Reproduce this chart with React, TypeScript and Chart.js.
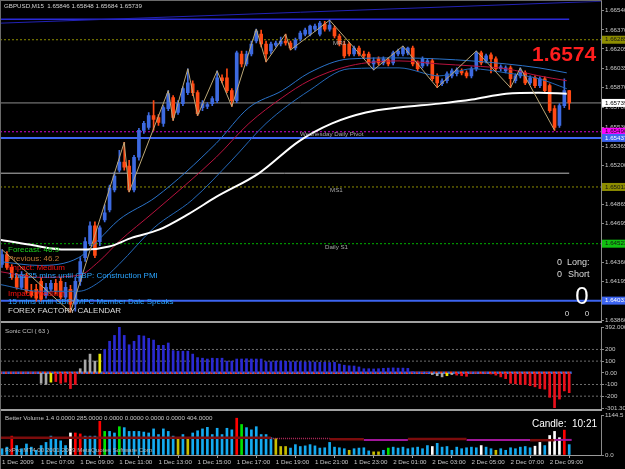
import React, { useEffect, useRef } from 'react';
import { Chart, registerables } from 'chart.js';

Chart.register(...registerables);

const FONT = "'Liberation Sans', Arial, Helvetica, sans-serif";

// ---------------- data ----------------
const symbol = 'GBPUSD,M15';
const timeLabels = ['1 Dec 2009', '1 Dec 07:00', '1 Dec 09:00', '1 Dec 11:00', '1 Dec 13:00', '1 Dec 15:00', '1 Dec 17:00', '1 Dec 19:00', '1 Dec 21:00', '1 Dec 23:00', '2 Dec 01:00', '2 Dec 03:00', '2 Dec 05:00', '2 Dec 07:00', '2 Dec 09:00'];
const timeLabelBars = [0, 8, 16, 24, 32, 40, 48, 56, 64, 72, 80, 88, 96, 104, 112];

const opens = [1.64343, 1.64429, 1.64318, 1.64232, 1.64146, 1.64249, 1.64112, 1.64129, 1.64197, 1.64077,
  1.64129, 1.64180, 1.64197, 1.64060, 1.64129, 1.64000, 1.64197, 1.64403, 1.64523, 1.64678,
  1.64541, 1.64729, 1.64815, 1.64987, 1.65158, 1.65227, 1.65193, 1.64987, 1.65270, 1.65502,
  1.65527, 1.65630, 1.65613, 1.65562, 1.65690, 1.65785, 1.65656, 1.65733, 1.65828, 1.65905,
  1.65828, 1.65699, 1.65708, 1.65733, 1.65759, 1.65956, 1.65956, 1.65845, 1.65759, 1.66162,
  1.66076, 1.66162, 1.66274, 1.66334, 1.66248, 1.66188, 1.66239, 1.66248, 1.66274, 1.66257,
  1.66214, 1.66291, 1.66334, 1.66334, 1.66377, 1.66334, 1.66420, 1.66377, 1.66385, 1.66317,
  1.66248, 1.66248, 1.66162, 1.66214, 1.66162, 1.66162, 1.66076, 1.66119, 1.66085, 1.66111,
  1.66085, 1.66162, 1.66162, 1.66171, 1.66214, 1.66085, 1.66059, 1.66076, 1.66102, 1.65973,
  1.65905, 1.65931, 1.65973, 1.65991, 1.66016, 1.65999, 1.65973, 1.66034, 1.66171, 1.66102,
  1.66154, 1.66119, 1.66034, 1.66016, 1.66042, 1.65931, 1.65973, 1.65999, 1.65913, 1.65956,
  1.65888, 1.65948, 1.65888, 1.65690, 1.65544, 1.65716, 1.65846];
const highs = [1.64472, 1.64455, 1.64343, 1.64266, 1.64283, 1.64266, 1.64172, 1.64172, 1.64232, 1.64180,
  1.64206, 1.64215, 1.64232, 1.64189, 1.64163, 1.64232, 1.64403, 1.64575, 1.64712, 1.64712,
  1.64678, 1.64858, 1.65030, 1.65141, 1.65330, 1.65399, 1.65244, 1.65287, 1.65519, 1.65579,
  1.65656, 1.65759, 1.65639, 1.65716, 1.65845, 1.65802, 1.65759, 1.65879, 1.66034, 1.65931,
  1.65845, 1.65759, 1.65742, 1.65793, 1.66016, 1.65982, 1.66034, 1.65862, 1.66188, 1.66188,
  1.66188, 1.66274, 1.66377, 1.66368, 1.66274, 1.66265, 1.66274, 1.66308, 1.66334, 1.66274,
  1.66300, 1.66360, 1.66385, 1.66411, 1.66420, 1.66445, 1.66445, 1.66454, 1.66402, 1.66334,
  1.66274, 1.66265, 1.66231, 1.66231, 1.66188, 1.66179, 1.66128, 1.66137, 1.66137, 1.66128,
  1.66188, 1.66205, 1.66231, 1.66222, 1.66231, 1.66102, 1.66137, 1.66119, 1.66119, 1.65991,
  1.65948, 1.66008, 1.66034, 1.66042, 1.66034, 1.66016, 1.66051, 1.66188, 1.66188, 1.66162,
  1.66171, 1.66137, 1.66068, 1.66059, 1.66059, 1.65991, 1.66042, 1.66016, 1.65973, 1.65973,
  1.65965, 1.65965, 1.65905, 1.65716, 1.65733, 1.65948, 1.65848];
const lows = [1.64318, 1.64300, 1.64215, 1.64129, 1.64129, 1.64094, 1.64060, 1.64026, 1.64026, 1.64052,
  1.64112, 1.64086, 1.64043, 1.64043, 1.63931, 1.63940, 1.64163, 1.64369, 1.64506, 1.64403,
  1.64506, 1.64712, 1.64798, 1.64970, 1.65141, 1.65158, 1.64970, 1.64970, 1.65244, 1.65476,
  1.65510, 1.65502, 1.65544, 1.65536, 1.65673, 1.65587, 1.65639, 1.65716, 1.65810, 1.65802,
  1.65630, 1.65673, 1.65690, 1.65716, 1.65742, 1.65913, 1.65828, 1.65708, 1.65742, 1.66051,
  1.66059, 1.66145, 1.66257, 1.66222, 1.66094, 1.66162, 1.66222, 1.66231, 1.66239, 1.66197,
  1.66197, 1.66274, 1.66317, 1.66317, 1.66360, 1.66317, 1.66360, 1.66360, 1.66300, 1.66231,
  1.66128, 1.66145, 1.66145, 1.66145, 1.66128, 1.66068, 1.66025, 1.66068, 1.66068, 1.66059,
  1.66068, 1.66145, 1.66145, 1.66154, 1.66059, 1.66016, 1.66042, 1.66059, 1.65931, 1.65871,
  1.65888, 1.65913, 1.65956, 1.65973, 1.65982, 1.65956, 1.65956, 1.66016, 1.66068, 1.66085,
  1.65999, 1.66016, 1.66016, 1.65999, 1.65871, 1.65913, 1.65956, 1.65896, 1.65896, 1.65871,
  1.65871, 1.65828, 1.65656, 1.65502, 1.65527, 1.65699, 1.65684];
const closes = [1.64429, 1.64318, 1.64232, 1.64146, 1.64249, 1.64112, 1.64077, 1.64052, 1.64043, 1.64146,
  1.64180, 1.64112, 1.64060, 1.64146, 1.64000, 1.64197, 1.64369, 1.64541, 1.64678, 1.64421,
  1.64661, 1.64789, 1.65004, 1.65107, 1.65227, 1.65184, 1.64987, 1.65270, 1.65502, 1.65562,
  1.65630, 1.65596, 1.65570, 1.65699, 1.65819, 1.65613, 1.65733, 1.65862, 1.65913, 1.65828,
  1.65647, 1.65733, 1.65725, 1.65776, 1.65956, 1.65931, 1.65845, 1.65759, 1.66171, 1.66076,
  1.66162, 1.66248, 1.66360, 1.66248, 1.66162, 1.66248, 1.66257, 1.66274, 1.66257, 1.66214,
  1.66282, 1.66342, 1.66368, 1.66402, 1.66402, 1.66428, 1.66377, 1.66411, 1.66317, 1.66248,
  1.66145, 1.66162, 1.66214, 1.66162, 1.66145, 1.66085, 1.66102, 1.66085, 1.66119, 1.66076,
  1.66171, 1.66188, 1.66214, 1.66214, 1.66076, 1.66034, 1.66119, 1.66102, 1.65948, 1.65913,
  1.65931, 1.65991, 1.66016, 1.66025, 1.65999, 1.65973, 1.66034, 1.66171, 1.66085, 1.66145,
  1.66119, 1.66034, 1.66051, 1.66042, 1.65948, 1.65973, 1.66016, 1.65913, 1.65956, 1.65888,
  1.65948, 1.65845, 1.65673, 1.65527, 1.65716, 1.65845, 1.65739];

const priceTicks = [1.6654, 1.6637, 1.66205, 1.66035, 1.6587, 1.657, 1.6553, 1.65365, 1.652, 1.6503, 1.64865, 1.64695, 1.6453, 1.6436, 1.64195, 1.6403, 1.6386];

// moving averages (bar index, price)
const maWhiteBars = [-0.6, 5.5, 13.1, 17.2, 21.9, 26.6, 32.1, 38.2, 43.8, 52.6, 60.7, 67.5, 74.4, 81.2, 89.4, 96.1, 103.1, 109.8, 115.5];
const maWhite = [1.64558, 1.64515, 1.64472, 1.64472, 1.64498, 1.64575, 1.64644, 1.64781, 1.64927, 1.65133, 1.65407, 1.65562, 1.65656, 1.65699, 1.65733, 1.65768, 1.65819, 1.65828, 1.65819];
const bandUpBars = [-0.6, 7.6, 15.7, 19.8, 23.9, 31.5, 43.8, 50.5, 57.3, 62.8, 71.0, 81.2, 89.4, 96.1, 103.1, 109.8, 115.5];
const bandUp = [1.64369, 1.64335, 1.64403, 1.64558, 1.64729, 1.64927, 1.65390, 1.65699, 1.65845, 1.65999, 1.66119, 1.66128, 1.66119, 1.66102, 1.66076, 1.66042, 1.65999];
const maRedBars = [-0.6, 7.6, 15.7, 19.8, 23.9, 31.1, 43.8, 50.5, 57.3, 62.8, 71.0, 81.2, 89.4, 96.1, 103.1, 109.8, 115.5];
const maRed = [1.64283, 1.64232, 1.64249, 1.64369, 1.64541, 1.64798, 1.65270, 1.65562, 1.65785, 1.65931, 1.66059, 1.66102, 1.66076, 1.66059, 1.66034, 1.65973, 1.65931];
const bandLowBars = [-0.6, 7.6, 15.7, 19.8, 23.9, 31.1, 38.9, 47.0, 54.0, 62.8, 71.0, 81.2, 89.4, 96.1, 103.1, 109.8, 115.5];
const bandLow = [1.64172, 1.64112, 1.64112, 1.64189, 1.64343, 1.64661, 1.64901, 1.65244, 1.65562, 1.65845, 1.66034, 1.66042, 1.65973, 1.66034, 1.65999, 1.65948, 1.65862];

const zigzagBars = [0, 14, 25, 26, 34, 35, 38, 40, 44, 47, 52, 54, 58, 59, 67, 76, 82, 89, 97, 104, 106, 113];
const zigzagPrices = [1.64472, 1.63931, 1.65399, 1.64970, 1.65845, 1.65587, 1.66034, 1.65630, 1.66016, 1.65708, 1.66377, 1.66094, 1.66334, 1.66197, 1.66454, 1.66025, 1.66231, 1.65871, 1.66188, 1.65871, 1.66042, 1.65502];

const channelBars = [-0.41, 122.5];
const channelPrices = [1.66428, 1.66617];
const resistancePrice = 1.66463;
const grayLevelPrice = 1.65132;

const levelPrices = [1.66285, 1.6549, 1.65437, 1.65013, 1.64523, 1.64031];
const levelNames = ['MR1', '', 'Wednesday Daily Pivot', 'MS1', 'Daily S1', ''];

const forecastLines = ['Forecast: 46.9', 'Previous: 46.2', 'Impact: Medium', '1 hrs 25 mins until GBP: Construction PMI', '', 'Impact: Medium', '15 mins until GBP: MPC Member Dale Speaks', 'FOREX FACTORY CALENDAR'];
const longCount = 0;
const shortCount = 0;
const netCount = 0;
const lotsLong = 0;
const lotsShort = 0;

// Sonic CCI (63)
const cciPeriod = 63;
const cciValues = [0, 0, 0, 0, 0, 0, 0, 0,
  -90, -100, -80, -75, -90, -80, -135, -100,
  35, 110, 160, 100, 160,
  200, 270, 320, 392, 320, 240, 270, 320, 315, 295,
  280, 235, 235, 255, 190, 185, 185, 185, 160, 130,
  125, 118, 125, 123, 125, 100, 100, 118,
  118, 120, 118, 118, 118,
  95, 95, 100, 100, 98, 95, 95, 95, 92, 95, 92, 90,
  90, 88, 90, 75,
  65, 60, 58, 50,
  35, 35, 33, 35,
  38, 40, 42, 40, 40, 38,
  10, 5, 3, 2,
  -15, -25, -35, -25, -15,
  -20, -25, -30,
  0, 0, -5, 0, -10,
  -20, -35, -50,
  -90, -95, -100,
  -100, -110, -120, -135, -140,
  -210, -301.303, -225, -155, -170];
const cciNeutral: Record<number, string> = { 8: 'g', 9: 'g', 10: 'y', 16: 'g', 17: 'g', 18: 'g', 19: 'g', 20: 'y', 88: 'g', 89: 'g', 90: 'g', 91: 'y', 92: 'g' };
const cciTicks = [392, 200, 100, 0, -100, -200, -301.303];
const cciTickLabels = ['392.0000', '200', '100', '0.00', '-100', '-200', '-301.3030'];
const cciLevels = [200, 100, -100, -200];

// Better Volume 1.4
const volValues = [180, 225, 540, 270, 180, 315, 225, 135, 270, 360,
  540, 495, 405, 270, 630, 630, 603, 540, 540,
  540, 964, 675, 675, 630, 810, 783, 675, 675, 675,
  657, 630, 747, 585, 747, 675, 540, 495, 585, 495,
  630, 693, 747, 792, 585, 765, 585, 765, 720, 1053,
  873, 783, 720, 810, 585, 585, 495, 468, 243, 243,
  198, 297, 243, 261, 297, 261, 198, 207, 360, 225,
  207, 180, 135, 180, 198, 207, 117, 90, 90, 135,
  198, 225, 198, 225, 180, 207, 225, 180, 270, 243,
  333, 225, 243, 135, 225, 180, 207, 225, 207, 270,
  225, 180, 135, 180, 135, 207, 180, 225, 243, 207,
  252, 360, 270, 558, 675, 495, 711, 297];
const volState = ['bbrbbbbbbb', 'bbbbwrrbb', 'brgbbgbbbb', 'bbbbbbbyby', 'bbbbbbbbbr', 'gbbbbbbyyy', 'bbbbbbbbbb', 'bbybbbbyyb', 'gbbbbbbbbw', 'bbbbbbbbbw', 'bbybbbbbbb', 'wwbwwwrb'].join('');
const volAvgFrom = [-0.41, 55, 67, 74, 83, 95, 108, 113];
const volAvgTo = [55, 67, 74, 83, 95, 108, 113, 116.5];
const volAvgValue = [495, 470, 450, 432, 459, 432, 423, 432];
const volAvgKind = 'dxdmdmdm';
const volTicks = [0, 1144.5];
const volTickLabels = ['0.0', '1144.5'];
const volumeTitle = 'Better Volume 1.4 0.0000 285.0000 0.0000 0.0000 0.0000 0.0000 404.0000';
const candleTimer = '10:21';
const copyright = 'FxPro MT4.00 2001-2009 MetaQuotes Software Corp.';

// ---------------- styling ----------------
const X_MIN = -0.41;
const X_MAX = 122.5;
const BULL = '#3d6ae0';
const BEAR = '#ff4a14';
const AXIS_TEXT = '#c8c8c8';
const SMALL = 6.2;

function yAxis(min: number, max: number, ticks: number[], fmt: (v: number) => string) {
  return {
    type: 'linear',
    position: 'right',
    min,
    max,
    afterFit: (s: any) => { s.width = 24; },
    afterBuildTicks: (s: any) => { s.ticks = ticks.map((v) => ({ value: v })); },
    ticks: { autoSkip: false, color: AXIS_TEXT, padding: 1, font: { size: SMALL, lineHeight: 0.1 }, callback: (v: any) => fmt(Number(v)) },
    grid: { drawOnChartArea: false, drawTicks: true, tickLength: 3, color: '#8a8a8a' },
    border: { display: true, color: '#8a8a8a', dash: [2, 1] },
  };
}

const hiddenX = { type: 'linear', min: X_MIN, max: X_MAX, offset: false, display: false };

function seg(x0: number, y0: number, x1: number, y1: number, color: string, width: number, dash: number[], order: number, dashOffset = 0) {
  return {
    type: 'line',
    data: [{ x: x0, y: y0 }, { x: x1, y: y1 }],
    borderColor: color,
    borderWidth: width,
    borderDash: dash,
    borderDashOffset: dashOffset,
    pointRadius: 0,
    order,
  };
}

function curve(bars: number[], vals: number[], color: string, width: number, order: number) {
  return {
    type: 'line',
    data: bars.map((b, i) => ({ x: b, y: vals[i] })),
    borderColor: color,
    borderWidth: width,
    pointRadius: 0,
    cubicInterpolationMode: 'monotone',
    order,
  };
}

const baseOptions = {
  animation: false,
  responsive: false,
  maintainAspectRatio: false,
  events: [],
  plugins: { legend: { display: false }, tooltip: { enabled: false } },
};

function makeMain(canvas: HTMLCanvasElement) {
  const n = closes.length - 1;
  const idx = closes.map((_, i) => i);
  const colors = closes.map((c, i) => (c >= opens[i] ? BULL : BEAR));
  const levelStyle = [
    { c: '#8c8c00', w: 1, d: [2, 2], bg: '#8c8c00', fg: '#141414' },
    { c: '#d400d4', w: 1, d: [2, 2], bg: '#ff00ff', fg: '#141414' },
    { c: '#3c64f0', w: 2, d: [], bg: '#3c64f0', fg: '#ffffff' },
    { c: '#8c8c00', w: 1, d: [2, 2], bg: '#8c8c00', fg: '#141414' },
    { c: '#00b000', w: 1, d: [2, 2], bg: '#10c010', fg: '#141414' },
    { c: '#3c64f0', w: 2, d: [], bg: '#3c64f0', fg: '#ffffff' },
  ];
  const labelPos = [
    { x: 333, dy: 4 }, { x: 0, dy: 0 }, { x: 300, dy: -4 }, { x: 330, dy: 3 }, { x: 325, dy: 4 }, { x: 0, dy: 0 },
  ];
  const forecastColors = ['#1ed21e', '#c07a34', '#ff1010', '#2aa4ff', '', '#ff1010', '#2aa4ff', '#dcdcdc'];

  const textPlugin = {
    id: 'mainText',
    afterDraw(chart: any) {
      const { ctx } = chart;
      const ys = chart.scales.y;
      ctx.save();
      ctx.textBaseline = 'middle';
      ctx.textAlign = 'left';
      ctx.font = `${SMALL}px ${FONT}`;
      ctx.fillStyle = '#d4d4d4';
      ctx.fillText(`${symbol}  ${opens[n].toFixed(5)} ${highs[n].toFixed(5)} ${lows[n].toFixed(5)} ${closes[n].toFixed(5)}`, 4, 6);
      ctx.fillStyle = '#a8a8a8';
      levelNames.forEach((name, k) => {
        if (!name) return;
        ctx.fillText(name, labelPos[k].x, ys.getPixelForValue(levelPrices[k]) + labelPos[k].dy);
      });
      // forecast calendar
      ctx.font = `8px ${FONT}`;
      forecastLines.forEach((t, k) => {
        if (!t) return;
        ctx.fillStyle = forecastColors[k];
        ctx.fillText(t, 8, 250 + k * 8.7);
      });
      // big price
      ctx.font = `bold 21px ${FONT}`;
      ctx.fillStyle = '#ff1e1e';
      ctx.textBaseline = 'alphabetic';
      ctx.fillText(closes[n].toFixed(4), 532, 61);
      // positions
      ctx.textBaseline = 'middle';
      ctx.font = `9px ${FONT}`;
      ctx.fillStyle = '#dcdcdc';
      ctx.textAlign = 'right';
      ctx.fillText(String(longCount), 562, 263);
      ctx.fillText(String(shortCount), 562, 275);
      ctx.textAlign = 'left';
      ctx.fillText('Long:', 567, 263);
      ctx.fillText('Short', 568, 275);
      ctx.textAlign = 'center';
      ctx.font = `24px ${FONT}`;
      ctx.fillStyle = '#ffffff';
      ctx.fillText(String(netCount), 582, 297);
      ctx.font = `8px ${FONT}`;
      ctx.fillStyle = '#dcdcdc';
      ctx.fillText(String(lotsLong), 567, 314);
      ctx.fillText(String(lotsShort), 587, 314);
      // axis tags
      ctx.textAlign = 'left';
      ctx.font = `${SMALL}px ${FONT}`;
      const tag = (p: number, bg: string, fg: string) => {
        const y = ys.getPixelForValue(p);
        ctx.fillStyle = bg;
        ctx.fillRect(602, y - 4, 23, 8);
        ctx.fillStyle = fg;
        ctx.fillText(p.toFixed(5), 605, y);
      };
      levelPrices.forEach((p, k) => tag(p, levelStyle[k].bg, levelStyle[k].fg));
      tag(closes[n], '#ffffff', '#000000');
      ctx.restore();
    },
  };

  const datasets: any[] = [
    { type: 'bar', data: idx.map((i) => ({ x: i, y: [opens[i], closes[i]] })), backgroundColor: colors, borderWidth: 0, barThickness: 3, grouped: false, minBarLength: 1, order: 10 },
    { type: 'bar', data: idx.map((i) => ({ x: i, y: [lows[i], highs[i]] })), backgroundColor: colors, borderWidth: 0, barThickness: 1, grouped: false, order: 11 },
    curve(bandUpBars, bandUp, '#2a72c8', 1, 5),
    curve(maRedBars, maRed, '#b8123e', 1, 5),
    curve(bandLowBars, bandLow, '#2468b8', 1, 5),
    curve(maWhiteBars, maWhite, '#ffffff', 2, 4),
    { type: 'line', data: zigzagBars.map((b, i) => ({ x: b, y: zigzagPrices[i] })), borderColor: '#bca878', borderWidth: 1, pointRadius: 0, order: 3 },
    seg(channelBars[0], channelPrices[0], channelBars[1], channelPrices[1], '#2222b4', 1, [], 29),
    seg(X_MIN, resistancePrice, n, resistancePrice, '#2a2ad8', 1.5, [], 29),
    seg(X_MIN, grayLevelPrice, n, grayLevelPrice, '#bdbdbd', 1, [], 29),
    seg(X_MIN, closes[n], X_MAX, closes[n], '#8c8c8c', 1, [], 30),
    ...levelPrices.map((p, k) => seg(X_MIN, p, X_MAX, p, levelStyle[k].c, levelStyle[k].w, levelStyle[k].d, 30)),
  ];

  return new Chart(canvas, {
    type: 'bar',
    data: { datasets },
    options: {
      ...baseOptions,
      layout: { padding: { top: 0, bottom: 5, left: 0, right: 0 } },
      scales: { x: hiddenX, y: yAxis(1.63855, 1.66617, priceTicks, (v) => v.toFixed(5)) },
    } as any,
    plugins: [textPlugin],
  } as any);
}

function makeCci(canvas: HTMLCanvasElement) {
  const idx = cciValues.map((_, i) => i);
  const colorMap: Record<string, string> = { b: '#2a2ad2', r: '#e8101c', g: '#a8a8a8', y: '#e6e600' };
  const colors = cciValues.map((v, i) => colorMap[cciNeutral[i] || (v >= 0 ? 'b' : 'r')]);
  const last = cciValues.length - 1 + 0.5;
  const textPlugin = {
    id: 'cciText',
    afterDraw(chart: any) {
      const { ctx } = chart;
      ctx.save();
      ctx.textBaseline = 'middle';
      ctx.font = `${SMALL}px ${FONT}`;
      ctx.fillStyle = '#c4c4c4';
      ctx.fillText(`Sonic CCI ( ${cciPeriod} )`, 5, 8);
      ctx.restore();
    },
  };
  const datasets: any[] = [
    ...cciLevels.map((v) => seg(X_MIN, v, X_MAX, v, '#6e6e6e', 1, [2, 2], 20)),
    seg(X_MIN, 0, last, 0, '#ff3c14', 2.5, [2.45, 2.44], 15),
    seg(X_MIN, 0, last, 0, '#3c6ce0', 2.5, [2.45, 2.44], 14, 2.45),
    { type: 'bar', data: idx.map((i) => ({ x: i, y: cciValues[i] })), backgroundColor: colors, borderWidth: 0, barThickness: 2, grouped: false, order: 5 },
  ];
  return new Chart(canvas, {
    type: 'bar',
    data: { datasets },
    options: {
      ...baseOptions,
      layout: { padding: { top: 4, bottom: 5, left: 0, right: 0 } },
      scales: { x: hiddenX, y: yAxis(-301.303, 392, cciTicks, (v) => cciTickLabels[cciTicks.indexOf(v)] ?? '') },
    } as any,
    plugins: [textPlugin],
  } as any);
}

function makeVolume(canvas: HTMLCanvasElement) {
  const idx = volValues.map((_, i) => i);
  const colorMap: Record<string, string> = { b: '#14aaf0', r: '#ff0000', g: '#00e400', y: '#c8be00', w: '#ffffff' };
  const colors = idx.map((i) => colorMap[volState[i] || 'b']);
  const avgStyle: Record<string, any> = { d: { c: '#7c0c0c', w: 2.5, dash: [] }, m: { c: '#a0169a', w: 2, dash: [] }, x: { c: '#b0285a', w: 1.5, dash: [1, 1] } };
  const textPlugin = {
    id: 'volText',
    afterDraw(chart: any) {
      const { ctx } = chart;
      ctx.save();
      ctx.textBaseline = 'middle';
      ctx.font = `${SMALL}px ${FONT}`;
      ctx.fillStyle = '#c4c4c4';
      ctx.fillText(volumeTitle, 5, 7);
      ctx.fillStyle = '#b4b4b4';
      ctx.fillText(copyright, 5, 39);
      ctx.font = `10px ${FONT}`;
      ctx.fillStyle = '#ffffff';
      ctx.textAlign = 'right';
      ctx.fillText(`Candle:  ${candleTimer}`, 597, 13);
      ctx.restore();
    },
  };
  const datasets: any[] = [
    { type: 'bar', data: idx.map((i) => ({ x: i, y: volValues[i] })), backgroundColor: colors, borderWidth: 0, barThickness: 2, grouped: false, order: 10 },
    ...volAvgFrom.map((x0, k) => {
      const st = avgStyle[volAvgKind[k]];
      return seg(x0, volAvgValue[k], volAvgTo[k], volAvgValue[k], st.c, st.w, st.dash, 5);
    }),
  ];
  return new Chart(canvas, {
    type: 'bar',
    data: { datasets },
    options: {
      ...baseOptions,
      layout: { padding: { top: 4, bottom: 0, left: 0, right: 0 } },
      scales: {
        x: {
          type: 'linear',
          min: X_MIN,
          max: X_MAX,
          offset: false,
          position: 'bottom',
          afterFit: (s: any) => { s.height = 14; },
          afterBuildTicks: (s: any) => { s.ticks = timeLabelBars.map((v) => ({ value: v })); },
          ticks: {
            autoSkip: false, maxRotation: 0, minRotation: 0, align: 'start', padding: 1,
            color: AXIS_TEXT, font: { size: SMALL },
            callback: (v: any) => timeLabels[timeLabelBars.indexOf(Number(v))] ?? '',
          },
          grid: { drawOnChartArea: false, drawTicks: true, tickLength: 3, color: '#9a9a9a' },
          border: { display: true, color: '#9a9a9a' },
        },
        y: yAxis(0, 1144.5, volTicks, (v) => volTickLabels[volTicks.indexOf(v)] ?? ''),
      },
    } as any,
    plugins: [textPlugin],
  } as any);
}

export default function App() {
  const mainRef = useRef<HTMLCanvasElement>(null);
  const cciRef = useRef<HTMLCanvasElement>(null);
  const volRef = useRef<HTMLCanvasElement>(null);

  useEffect(() => {
    Chart.defaults.font.family = FONT;
    const charts = [makeMain(mainRef.current!), makeCci(cciRef.current!), makeVolume(volRef.current!)];
    return () => charts.forEach((c) => c.destroy());
  }, []);

  const abs = (top: number, h: number, w = 625): React.CSSProperties => ({ position: 'absolute', left: 0, top, width: w, height: h });

  return (
    <div style={{ position: 'fixed', left: 0, top: 0, width: 625, height: 469, background: '#000000', overflow: 'hidden' }}>
      <canvas ref={mainRef} width={625} height={326} style={abs(0, 326)} />
      <div style={{ ...abs(321, 2, 602), background: '#a0a0a0' }} />
      <canvas ref={cciRef} width={625} height={90} style={abs(323, 90)} />
      <div style={{ ...abs(409, 2, 602), background: '#a0a0a0' }} />
      <canvas ref={volRef} width={625} height={58} style={{ ...abs(411, 58), background: '#000000' }} />
      <div style={{ ...abs(0, 1, 602), background: '#6a6a6a' }} />
      <div style={{ position: 'absolute', left: 0, top: 0, width: 1, height: 469, background: '#6a6a6a' }} />
    </div>
  );
}
